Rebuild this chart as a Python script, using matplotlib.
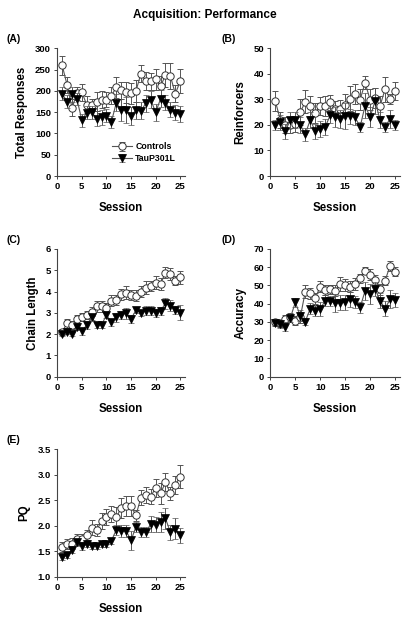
import matplotlib
matplotlib.use("Agg")
import matplotlib.pyplot as plt

plt.rcParams['font.family'] = ['Liberation Sans', 'DejaVu Sans']
plt.rcParams['font.weight'] = 'bold'

sessions = list(range(1, 26))

# (A) Total Responses
resp_ctrl = [260, 214, 160, 194, 197, 167, 167, 175, 179, 179, 189, 208, 202, 197, 194,
             200, 240, 223, 223, 227, 211, 237, 235, 193, 223]
resp_ctrl_err = [22, 18, 20, 15, 20, 20, 15, 22, 20, 18, 20, 25, 20, 25, 25,
                 25, 20, 22, 20, 25, 25, 28, 30, 20, 28]
resp_tau = [193, 175, 192, 181, 131, 149, 150, 135, 138, 142, 127, 172, 155, 155, 141,
            155, 153, 171, 179, 150, 181, 172, 156, 149, 146]
resp_tau_err = [15, 15, 18, 15, 15, 15, 15, 18, 18, 15, 15, 20, 25, 30, 20,
                20, 20, 20, 20, 20, 20, 18, 18, 18, 18]

# (B) Reinforcers
reinf_ctrl = [29.3, 22.0, 20.0, 20.0, 20.3, 25.0, 29.0, 27.5, 24.7, 27.5, 27.5, 28.9, 26.4,
              26.2, 28.0, 30.3, 32.2, 29.9, 36.5, 29.9, 30.6, 27.5, 33.9, 30.3, 33.2]
reinf_ctrl_err = [4, 3, 3, 3, 3, 5, 4.5, 4, 4, 3.5, 4, 3, 3, 3.5, 4, 5, 4, 4, 2.5, 4,
                  4, 4, 5, 2, 3.5]
reinf_tau = [20.0, 21.0, 17.5, 22.0, 22.0, 20.0, 16.4, 22.0, 17.5, 18.4, 19.2, 23.8, 23.1,
             22.3, 23.4, 23.4, 23.0, 19.2, 27.6, 23.1, 29.3, 22.0, 19.2, 22.4, 20.0]
reinf_tau_err = [2, 3, 3, 3, 3, 3, 2.5, 3, 3, 3, 3, 3, 4, 3.5, 5, 3, 3, 2, 5, 4,
                 5, 3, 2, 3.5, 2]

# (C) Chain Length
chain_ctrl = [2.12, 2.5, 2.43, 2.7, 2.8, 2.9, 3.06, 3.3, 3.3, 3.25, 3.57, 3.6, 3.87, 3.95,
              3.84, 3.8, 4.0, 4.18, 4.26, 4.42, 4.36, 4.89, 4.83, 4.51, 4.67]
chain_ctrl_err = [0.1, 0.2, 0.2, 0.2, 0.2, 0.2, 0.2, 0.25, 0.25, 0.2, 0.25, 0.25, 0.25,
                  0.3, 0.25, 0.25, 0.25, 0.3, 0.25, 0.3, 0.3, 0.25, 0.3, 0.2, 0.3]
chain_tau = [2.0, 2.1, 2.0, 2.35, 2.13, 2.43, 2.79, 2.43, 2.43, 2.9, 2.55, 2.79, 2.9, 2.98,
             2.71, 3.13, 3.0, 3.1, 3.1, 3.0, 3.09, 3.45, 3.34, 3.13, 3.0]
chain_tau_err = [0.1, 0.1, 0.1, 0.15, 0.15, 0.2, 0.15, 0.15, 0.15, 0.15, 0.15, 0.2, 0.2,
                 0.25, 0.2, 0.15, 0.15, 0.2, 0.2, 0.2, 0.2, 0.25, 0.25, 0.2, 0.35]

# (D) Accuracy
acc_ctrl = [29.8, 29.2, 31.6, 32.5, 30.7, 32.5, 46.6, 45.7, 43.0, 49.4, 47.5, 48.0, 47.2,
            50.8, 50.3, 49.4, 50.8, 53.9, 58.1, 55.8, 53.0, 48.0, 52.6, 60.7, 57.6]
acc_ctrl_err = [2, 2, 2, 2.5, 2.5, 3, 3.5, 3, 3, 3, 2.5, 2.5, 3, 4, 3.5, 3, 3.5, 2.5,
                2, 3, 3, 3, 2.5, 2.5, 2.5]
acc_tau = [29.6, 28.9, 27.4, 32.0, 40.8, 33.5, 30.2, 37.3, 36.2, 37.1, 41.7, 41.5, 40.2,
           40.6, 40.8, 42.4, 40.9, 38.0, 47.0, 45.3, 48.0, 41.7, 37.3, 42.4, 42.0]
acc_tau_err = [1.5, 2, 2.5, 2, 2.5, 3, 2, 3, 3, 4, 3, 3, 5, 4, 4, 4, 3.5, 3, 5, 5.5,
               4, 4, 4, 5, 4]

# (E) PQ
pq_ctrl = [1.58, 1.64, 1.65, 1.73, 1.73, 1.81, 1.96, 1.91, 2.09, 2.17, 2.23, 2.16, 2.35,
           2.38, 2.38, 2.2, 2.55, 2.6, 2.57, 2.74, 2.63, 2.85, 2.63, 2.8, 2.96]
pq_ctrl_err = [0.1, 0.1, 0.1, 0.1, 0.1, 0.1, 0.15, 0.12, 0.15, 0.15, 0.15, 0.2, 0.2, 0.2,
               0.2, 0.1, 0.15, 0.15, 0.15, 0.18, 0.2, 0.18, 0.12, 0.18, 0.22]
pq_tau = [1.38, 1.42, 1.53, 1.67, 1.6, 1.64, 1.6, 1.6, 1.64, 1.64, 1.7, 1.92, 1.89, 1.9,
          1.71, 1.98, 1.87, 1.87, 2.03, 2.02, 2.07, 2.14, 1.87, 1.94, 1.81]
pq_tau_err = [0.05, 0.05, 0.07, 0.07, 0.07, 0.05, 0.05, 0.05, 0.05, 0.05, 0.05, 0.1, 0.12,
              0.12, 0.18, 0.1, 0.1, 0.1, 0.15, 0.15, 0.2, 0.2, 0.15, 0.2, 0.15]

fig = plt.figure(figsize=(4.09, 6.22), dpi=100)
fig.text(0.5, 0.976, "Acquisition: Performance", ha='center', va='center',
         fontsize=8.5, fontweight='bold')

left_col, right_col = 0.140, 0.661
widths = [0.3127, 0.317]
panels = [
    ("(A)", "Total Responses", resp_ctrl, resp_ctrl_err, resp_tau, resp_tau_err,
     (0, 300), [0, 50, 100, 150, 200, 250, 300], left_col, 0.717, 0),
    ("(B)", "Reinforcers", reinf_ctrl, reinf_ctrl_err, reinf_tau, reinf_tau_err,
     (0, 50), [0, 10, 20, 30, 40, 50], right_col, 0.717, 1),
    ("(C)", "Chain Length", chain_ctrl, chain_ctrl_err, chain_tau, chain_tau_err,
     (0, 6), [0, 1, 2, 3, 4, 5, 6], left_col, 0.3944, 0),
    ("(D)", "Accuracy", acc_ctrl, acc_ctrl_err, acc_tau, acc_tau_err,
     (0, 70), [0, 10, 20, 30, 40, 50, 60, 70], right_col, 0.3944, 1),
    ("(E)", "PQ", pq_ctrl, pq_ctrl_err, pq_tau, pq_tau_err,
     (1.0, 3.5), [1.0, 1.5, 2.0, 2.5, 3.0, 3.5], left_col, 0.0728, 0),
]

for tag, ylabel, yc, ec, yt, et, ylim, yticks, x0, y0, col in panels:
    ax = fig.add_axes([x0, y0, widths[col], 0.2053])
    ax.spines[['right', 'top']].set_visible(False)
    for s in ['left', 'bottom']:
        ax.spines[s].set_linewidth(0.8)
        ax.spines[s].set_color('#444444')

    ax.errorbar(sessions, yc, yerr=ec, color='#555555', lw=0.8, elinewidth=0.7,
                capsize=2.5, capthick=0.7, marker='o', ms=5.3, mfc='white',
                mec='#333333', mew=0.7, label='Controls', zorder=2)
    ax.errorbar(sessions, yt, yerr=et, color='#555555', lw=0.8, elinewidth=0.7,
                capsize=2.5, capthick=0.7, marker='v', ms=5.3, mfc='black',
                mec='black', mew=0.5, label='TauP301L', zorder=3)

    ax.set_xlim(0, 26)
    ax.set_ylim(*ylim)
    ax.set_xticks([0, 5, 10, 15, 20, 25])
    ax.set_yticks(yticks)
    if ylim[1] == 3.5:
        ax.set_yticklabels(["%.1f" % v for v in yticks])
    ax.tick_params(direction='out', length=2.5, width=0.7, labelsize=6.8,
                   color='#444444', pad=2)
    for lab in ax.get_xticklabels() + ax.get_yticklabels():
        lab.set_fontweight('bold')

    ax.set_ylabel(ylabel, fontsize=8.3, fontweight='bold', labelpad=5)
    ax.set_xlabel("Session", fontsize=8.3, fontweight='bold', labelpad=8)
    ax.text(-0.40 if col == 0 else -0.38, 1.07, tag, transform=ax.transAxes,
            fontsize=7.5, fontweight='bold', ha='left', va='center')

    if tag == "(A)":
        leg = ax.legend(loc='lower right', bbox_to_anchor=(0.97, 0.06), frameon=False,
                        fontsize=6.3, handlelength=2.2, handletextpad=0.4,
                        borderaxespad=0.2, labelspacing=0.3)
        for t in leg.get_texts():
            t.set_fontweight('bold')

fig.savefig("out.png", dpi=100)
